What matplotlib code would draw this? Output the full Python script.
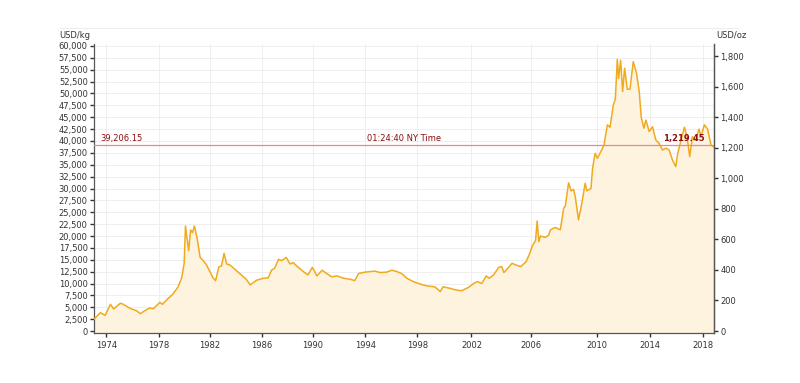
import numpy as np
import matplotlib.pyplot as plt
from matplotlib.ticker import FuncFormatter, MultipleLocator
from matplotlib.lines import Line2D

# gold price, USD/kg
years = [1973.0, 1973.5, 1973.9, 1974.3, 1974.55, 1975.05, 1975.25, 1975.8, 1976.3, 1976.6,
         1976.9, 1977.3, 1977.6, 1978.1, 1978.3, 1978.7, 1979.1, 1979.5, 1979.8, 1980.0,
         1980.1, 1980.35, 1980.5, 1980.65, 1980.8, 1981.0, 1981.25, 1981.5, 1981.75, 1981.95,
         1982.25, 1982.45, 1982.7, 1982.9, 1983.1, 1983.3, 1983.55, 1984.05, 1984.6, 1984.8,
         1985.1, 1985.6, 1986.1, 1986.5, 1986.75, 1987.0, 1987.3, 1987.55, 1987.9, 1988.2,
         1988.45, 1988.85, 1989.25, 1989.6, 1989.95, 1990.3, 1990.7, 1991.05, 1991.45, 1991.85,
         1992.35, 1992.85, 1993.2, 1993.5, 1994.0, 1994.4, 1994.75, 1995.15, 1995.65, 1996.05,
         1996.4, 1996.8, 1997.2, 1997.7, 1998.2, 1998.7, 1999.3, 1999.7, 1999.9, 2000.4,
         2000.9, 2001.3, 2001.8, 2002.15, 2002.4, 2002.7, 2003.0, 2003.2, 2003.5, 2003.85,
         2004.05, 2004.2, 2004.75, 2005.0, 2005.35, 2005.7, 2005.95, 2006.1, 2006.3, 2006.4,
         2006.5, 2006.6, 2006.9, 2007.1, 2007.2, 2007.5, 2007.8, 2008.0, 2008.1, 2008.3,
         2008.45, 2008.6, 2008.7, 2008.9, 2009.1, 2009.3, 2009.4, 2009.65, 2009.75, 2009.9,
         2010.05, 2010.3, 2010.55, 2010.8, 2011.0, 2011.25, 2011.4, 2011.55, 2011.65, 2011.8,
         2011.95, 2012.1, 2012.3, 2012.5, 2012.75, 2013.0, 2013.2, 2013.35, 2013.55, 2013.7,
         2013.95, 2014.2, 2014.45, 2014.7, 2014.95, 2015.2, 2015.45, 2015.7, 2015.95, 2016.1,
         2016.35, 2016.6, 2016.8, 2017.0, 2017.2, 2017.45, 2017.7, 2017.85, 2018.1, 2018.35,
         2018.6, 2018.83]
usd_kg = [2460, 3850, 3300, 5620, 4630, 5830, 5680, 4780, 4270, 3640,
          4210, 4840, 4700, 6040, 5620, 6740, 7720, 9200, 11100, 14250,
          22100, 16900, 21260, 20700, 22100, 19700, 15500, 14800, 13900, 12850,
          11200, 10600, 13500, 13700, 16350, 14100, 13900, 12700, 11400, 10900,
          9700, 10700, 11100, 11200, 12800, 13200, 15100, 14800, 15500, 14100,
          14400, 13400, 12500, 11800, 13400, 11600, 12800, 12100, 11400, 11600,
          11100, 10900, 10600, 12100, 12400, 12500, 12600, 12300, 12400, 12800,
          12550, 12100, 11100, 10400, 9900, 9500, 9300, 8300, 9300, 9000,
          8600, 8500, 9200, 10000, 10400, 10000, 11600, 11100, 11800, 13400,
          13550, 12300, 14250, 13900, 13550, 14600, 16350, 17900, 19000, 23150,
          18800, 20000, 19700, 20200, 21300, 21800, 21300, 25800, 26300, 31200,
          29500, 29800, 28300, 23400, 26900, 31100, 29500, 30000, 34250, 37400,
          36350, 37700, 39150, 43400, 42900, 47600, 48800, 57200, 53200, 57000,
          50400, 55300, 50900, 50900, 56700, 54200, 50400, 45000, 42700, 44400,
          42000, 43000, 40200, 39500, 38100, 38500, 38100, 36000, 34600, 37400,
          40200, 42900, 40900, 36700, 40900, 40200, 42500, 40900, 43400, 42500,
          39150, 38700]

tick_years = [1974, 1978, 1982, 1986, 1990, 1994, 1998, 2002, 2006, 2010, 2014, 2018]
last_kg = 39206.15
last_oz = 1219.45
OZ_PER_KG = 32.1507

# the source chart spaces its year ticks unevenly, so map years to pixels
ax_years = [1950, 1974, 1978, 1982, 1986, 1990, 1994, 1998, 2002, 2006, 2010, 2014, 2018, 2040]
ax_px = [-192, 107, 159, 210, 262, 313, 365, 417, 471, 530, 596, 649, 702, 993]


def fwd(x):
    return np.interp(x, ax_years, ax_px)


def inv(p):
    return np.interp(p, ax_px, ax_years)


line_col = '#f0aa1e'
txt_col = '#333333'
red_txt = '#8b1010'

fig = plt.figure(figsize=(8, 3.83), dpi=100)
ax = fig.add_axes([94 / 800, 50 / 383, 620 / 800, 289 / 383])
ax.set_xscale('function', functions=(fwd, inv))

ax.fill_between(years, usd_kg, -1000, color='#fdf3df', lw=0, zorder=1)
ax.plot(years, usd_kg, color=line_col, lw=1.1, zorder=3)

ax.set_xlim(1973.0, 2018.83)
ax.set_ylim(-420, 60420)

ax.yaxis.set_major_locator(MultipleLocator(2500))
ax.yaxis.set_major_formatter(FuncFormatter(lambda v, p: f'{v:,.0f}'))
ax.set_xticks(tick_years)
ax.set_xticklabels([str(y) for y in tick_years])

ax.grid(True, color='#efefef', lw=0.7, zorder=0)
ax.set_axisbelow(True)
ax.spines['top'].set_visible(False)
for s in ['left', 'right', 'bottom']:
    ax.spines[s].set_color('#555555')
    ax.spines[s].set_linewidth(0.9)
ax.tick_params(axis='both', labelsize=6, colors=txt_col, length=3, width=1, pad=1.5)
ax.tick_params(axis='x', pad=3)

ax2 = ax.twinx()
ax2.set_ylim(-420 / OZ_PER_KG, 60420 / OZ_PER_KG)
ax2.yaxis.set_major_locator(MultipleLocator(200))
ax2.yaxis.set_major_formatter(FuncFormatter(lambda v, p: f'{v:,.0f}'))
ax2.tick_params(axis='y', labelsize=6, colors=txt_col, length=3, width=1, pad=1.5)
for s in ['top', 'left', 'bottom']:
    ax2.spines[s].set_visible(False)
ax2.spines['right'].set_color('#555555')
ax2.spines['right'].set_linewidth(0.9)

# current price line
ax.axhline(last_kg, color='#e98a8a', lw=0.9, zorder=4)
ax.text(1973.5, last_kg + 400, f'{last_kg:,.2f}', color=red_txt, fontsize=6,
        ha='left', va='bottom', zorder=5)
ax.text(0.5, last_kg + 400, '01:24:40 NY Time', color=red_txt, fontsize=6,
        ha='center', va='bottom', transform=ax.get_yaxis_transform(), zorder=5)
ax.text(0.985, last_kg + 400, f'{last_oz:,.2f}', color=red_txt, fontsize=6,
        fontweight='bold', ha='right', va='bottom',
        transform=ax.get_yaxis_transform(), zorder=5)

fig.text(90 / 800, 1 - 35 / 383, 'USD/kg', fontsize=6, color=txt_col, ha='right', va='center')
fig.text(716 / 800, 1 - 35 / 383, 'USD/oz', fontsize=6, color=txt_col, ha='left', va='center')
fig.add_artist(Line2D([60 / 800, 738 / 800], [1 - 28 / 383, 1 - 28 / 383],
                      color='#eeeeee', lw=0.8))

fig.savefig('out.png', dpi=100)
